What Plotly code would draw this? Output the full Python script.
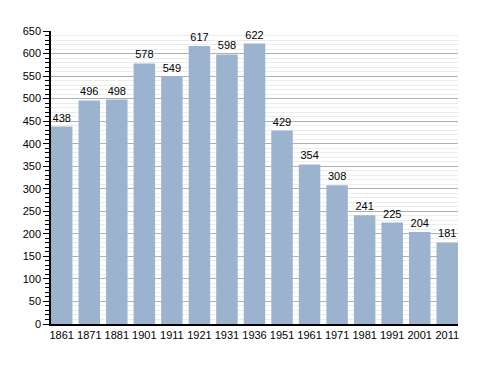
import plotly.graph_objects as go

years = ["1861", "1871", "1881", "1901", "1911", "1921", "1931", "1936",
         "1951", "1961", "1971", "1981", "1991", "2001", "2011"]
population = [438, 496, 498, 578, 549, 617, 598, 622, 429, 354, 308, 241, 225, 204, 181]

fig = go.Figure(go.Bar(
    x=years, y=population,
    text=[str(v) for v in population],
    textposition="outside",
    textfont=dict(size=11, color="#000000", family="Liberation Sans, Arial, sans-serif"),
    marker=dict(color="#9bb3cf", line=dict(width=0)),
    cliponaxis=False,
))

fig.update_layout(
    width=480, height=365,
    margin=dict(l=43, r=30, t=23, b=49, autoexpand=False),
    paper_bgcolor="white", plot_bgcolor="white",
    bargap=0.22,
    showlegend=False,
    font=dict(family="Liberation Sans, Arial, sans-serif", size=11, color="#000000"),
)
fig.update_xaxes(
    type="category",
    range=[-0.39, 14.39],
    showline=True, linecolor="#000000", linewidth=1.5,
    ticks="", showgrid=False,
    tickfont=dict(size=11),
)
fig.update_yaxes(
    range=[0, 650], dtick=50, tick0=0,
    showline=True, linecolor="#000000", linewidth=1.5,
    ticks="outside", ticklen=6, tickcolor="#000000", tickwidth=1,
    showgrid=True, gridcolor="#b0b0b0", gridwidth=1,
    zeroline=False,
    tickfont=dict(size=11),
    minor=dict(dtick=10, ticks="outside", ticklen=4, tickcolor="#000000",
               showgrid=True, gridcolor="#ececec", gridwidth=1),
)

fig.write_html("out.html")
